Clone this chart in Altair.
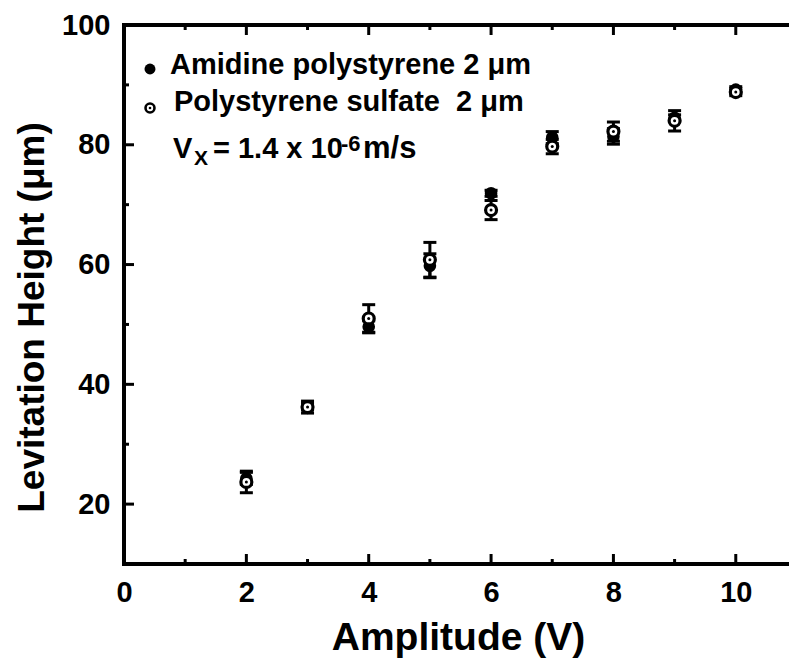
import altair as alt
import pandas as pd

# ---- data ----
amplitude = [2, 3, 4, 5, 6, 7, 8, 9, 10]
amidine = [24.3, 36.3, 49.6, 59.8, 71.9, 81.2, 81.4, 84.5, 89.2]
amidine_err = [1.0, 0.6, 1.0, 2.0, 0.5, 1.0, 1.3, 0.5, 0.5]
sulfate = [23.7, 36.2, 51.0, 60.8, 69.1, 79.7, 82.2, 84.0, 88.8]
sulfate_err = [1.8, 1.0, 2.3, 2.9, 1.6, 1.2, 1.6, 1.7, 0.6]

x_major = [0, 2, 4, 6, 8, 10]
x_minor = [1, 3, 5, 7, 9]
y_major = [20, 40, 60, 80, 100]
y_minor = [30, 50, 70, 90]

legend_labels = ["Amidine polystyrene 2 μm", "Polystyrene sulfate \u00a02 μm"]
vx_parts = ["V", "X", "= 1.4 x 10", "-6", "m/s"]

FONT = "Liberation Sans"
W, H = 665, 539
BLACK = "#000000"

df_a = pd.DataFrame({"amp": amplitude, "h": amidine,
                     "lo": [v - e for v, e in zip(amidine, amidine_err)],
                     "hi": [v + e for v, e in zip(amidine, amidine_err)]})
df_s = pd.DataFrame({"amp": amplitude, "h": sulfate,
                     "lo": [v - e for v, e in zip(sulfate, sulfate_err)],
                     "hi": [v + e for v, e in zip(sulfate, sulfate_err)]})

xscale = alt.Scale(domain=[0, 10.87], nice=False, zero=False, padding=0)
yscale = alt.Scale(domain=[10, 100], nice=False, zero=False, padding=0)

xaxis = alt.Axis(values=x_major, ticks=False, grid=False, domain=False,
                 labelFont=FONT, labelFontSize=29, labelFontWeight="bold", labelColor=BLACK,
                 labelPadding=14, labelFlush=False, labelOverlap=False, format="d",
                 title="Amplitude (V)", titleFont=FONT, titleFontSize=39, titleFontWeight="bold",
                 titleColor=BLACK, titleX=334, titleY=85, titleBaseline="alphabetic",
                 titleAlign="center")
yaxis = alt.Axis(values=y_major, ticks=False, grid=False, domain=False,
                 labelFont=FONT, labelFontSize=29, labelFontWeight="bold", labelColor=BLACK,
                 labelPadding=14, labelFlush=False, labelOverlap=False, format="d",
                 title="Levitation Height (μm)", titleFont=FONT, titleFontSize=37,
                 titleFontWeight="bold", titleColor=BLACK, titleAngle=-90,
                 titleX=-81, titleY=292, titleBaseline="alphabetic", titleAlign="center")

X = alt.X("amp:Q", scale=xscale, axis=xaxis)
Y = alt.Y("h:Q", scale=yscale, axis=yaxis)


def series_layers(df, open_marker):
    base = alt.Chart(df)
    bars = base.mark_rule(color=BLACK, strokeWidth=3, opacity=1).encode(
        x=X, y=alt.Y("lo:Q", scale=yscale, axis=yaxis), y2="hi:Q")
    cap_lo = base.mark_tick(color=BLACK, orient="horizontal", size=13, thickness=3, opacity=1).encode(
        x=X, y=alt.Y("lo:Q", scale=yscale, axis=yaxis))
    cap_hi = base.mark_tick(color=BLACK, orient="horizontal", size=13, thickness=3, opacity=1).encode(
        x=X, y=alt.Y("hi:Q", scale=yscale, axis=yaxis))
    if open_marker:
        pts = base.mark_point(shape="circle", filled=False, fill="white", fillOpacity=1,
                              stroke=BLACK, strokeWidth=3.2, size=120, opacity=1).encode(x=X, y=Y)
        dot = base.mark_point(shape="circle", filled=True, color=BLACK, size=9, opacity=1).encode(x=X, y=Y)
        return [bars, cap_lo, cap_hi, pts, dot]
    pts = base.mark_point(shape="circle", filled=True, color=BLACK, size=160, opacity=1).encode(x=X, y=Y)
    return [bars, cap_lo, cap_hi, pts]


layers = []
layers += series_layers(df_a, False)
layers += series_layers(df_s, True)

# manual inward ticks (as tick marks)
dxM = pd.DataFrame({"amp": x_major})
dxm = pd.DataFrame({"amp": x_minor})
dyM = pd.DataFrame({"h": y_major})
dym = pd.DataFrame({"h": y_minor})
layers += [
    alt.Chart(dxM).mark_tick(color=BLACK, orient="vertical", size=10, thickness=3, opacity=1).encode(x=X, y=alt.value(H - 5)),
    alt.Chart(dxm).mark_tick(color=BLACK, orient="vertical", size=5, thickness=3, opacity=1).encode(x=X, y=alt.value(H - 2.5)),
    alt.Chart(dxM).mark_tick(color=BLACK, orient="vertical", size=10, thickness=3, opacity=1).encode(x=X, y=alt.value(5)),
    alt.Chart(dxm).mark_tick(color=BLACK, orient="vertical", size=5, thickness=3, opacity=1).encode(x=X, y=alt.value(2.5)),
    alt.Chart(dyM).mark_tick(color=BLACK, orient="horizontal", size=10, thickness=3, opacity=1).encode(y=Y, x=alt.value(5)),
    alt.Chart(dym).mark_tick(color=BLACK, orient="horizontal", size=5, thickness=3, opacity=1).encode(y=Y, x=alt.value(2.5)),
]
# frame lines (top, bottom, left) as filled rectangles
one = pd.DataFrame({"k": [0]})
layers += [
    alt.Chart(one).mark_rect(color=BLACK, opacity=1).encode(
        x=alt.value(-2), x2=alt.value(W), y=alt.value(-2), y2=alt.value(2)),
    alt.Chart(one).mark_rect(color=BLACK, opacity=1).encode(
        x=alt.value(-2), x2=alt.value(W), y=alt.value(H - 2), y2=alt.value(H + 2)),
    alt.Chart(one).mark_rect(color=BLACK, opacity=1).encode(
        x=alt.value(-2), x2=alt.value(2), y=alt.value(-2), y2=alt.value(H + 2)),
]

# legend
layers += [
    alt.Chart(one).mark_point(shape="circle", filled=True, color=BLACK, size=120, opacity=1).encode(
        x=alt.value(26), y=alt.value(44)),
    alt.Chart(one).mark_point(shape="circle", filled=False, fill="white", fillOpacity=1, stroke=BLACK,
                              strokeWidth=2.6, size=80, opacity=1).encode(x=alt.value(26), y=alt.value(83)),
    alt.Chart(one).mark_point(shape="circle", filled=True, color=BLACK, size=7, opacity=1).encode(
        x=alt.value(26), y=alt.value(83)),
]


def txt(s, x, y, size):
    return alt.Chart(pd.DataFrame({"t": [s]})).mark_text(
        font=FONT, fontSize=size, fontWeight="bold", color=BLACK, align="left",
        baseline="alphabetic").encode(text="t:N", x=alt.value(x), y=alt.value(y))


layers += [
    txt(legend_labels[0], 46, 49, 29),
    txt(legend_labels[1], 50, 86, 29),
    txt(vx_parts[0], 49, 133, 29),
    txt(vx_parts[1], 70, 140, 21),
    txt(vx_parts[2], 89, 133, 29),
    txt(vx_parts[3], 217, 126, 22),
    txt(vx_parts[4], 239, 133, 31),
]

chart = alt.layer(*layers).properties(
    width=W, height=H, autosize="none",
    padding={"left": 124, "top": 25, "right": 0, "bottom": 106},
    background="white",
).configure_view(stroke=None)

chart.save("out.html", embed_options={"renderer": "svg", "actions": False})
